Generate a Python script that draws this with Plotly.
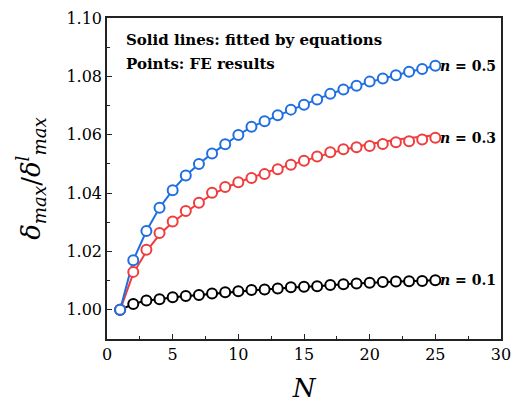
import plotly.graph_objects as go

N = list(range(1, 26))

fe_n05 = [1.000, 1.017, 1.027, 1.035, 1.041, 1.046, 1.050, 1.0536, 1.0567, 1.0599,
          1.0627, 1.0646, 1.0667, 1.0686, 1.0703, 1.0721, 1.0740, 1.0755, 1.0768, 1.0782,
          1.0793, 1.0804, 1.0816, 1.0825, 1.0836]
fe_n03 = [1.000, 1.013, 1.0206, 1.0263, 1.0303, 1.0339, 1.0367, 1.0401, 1.0421, 1.0437,
          1.0452, 1.0465, 1.0482, 1.0497, 1.0511, 1.0525, 1.0540, 1.0550, 1.0557, 1.0561,
          1.0568, 1.0574, 1.0578, 1.0584, 1.0590]
fe_n01 = [1.000, 1.0020, 1.0032, 1.0036, 1.0043, 1.0047, 1.0051, 1.0056, 1.0060, 1.0064,
          1.0068, 1.0070, 1.0073, 1.0077, 1.0079, 1.0081, 1.0085, 1.0088, 1.0090, 1.0093,
          1.0095, 1.0097, 1.0098, 1.0099, 1.0101]

fit_n05 = fe_n05
fit_n03 = [1.000, 1.0125, 1.0200, 1.0258, 1.0300, 1.0335, 1.0367, 1.0395, 1.0418, 1.0437,
           1.0454, 1.0469, 1.0484, 1.0498, 1.0511, 1.0524, 1.0537, 1.0549, 1.0559, 1.0568,
           1.0576, 1.0583, 1.0589, 1.0594, 1.0598]
fit_n01 = fe_n01

labels = ["<b><i>n</i> = 0.1</b>", "<b><i>n</i> = 0.3</b>", "<b><i>n</i> = 0.5</b>"]

BLACK = "#000000"
RED = "#f03c3c"
BLUE = "#1f6fe3"
SERIF = "DejaVu Serif"

fig = go.Figure()
series = [(fit_n01, fe_n01, BLACK), (fit_n03, fe_n03, RED), (fit_n05, fe_n05, BLUE)]
for fit, fe, col in series:
    fig.add_trace(go.Scatter(x=N, y=fit, mode="lines", line=dict(color=col, width=2),
                             showlegend=False, hoverinfo="skip"))
for fit, fe, col in series:
    fig.add_trace(go.Scatter(x=N, y=fe, mode="markers",
                             marker=dict(symbol="circle", size=10, color="white",
                                         line=dict(color=col, width=2)),
                             showlegend=False))

for lab, fe in zip(labels, [fe_n01, fe_n03, fe_n05]):
    fig.add_annotation(x=N[-1], y=fe[-1], text=lab, showarrow=False, xanchor="left",
                       xshift=3, yanchor="middle",
                       font=dict(family=SERIF, size=14, color="black"))

fig.add_annotation(x=0, y=1.0925, xref="x", yref="y", text="<b>Solid lines: fitted by equations</b>",
                   showarrow=False, xanchor="left", xshift=17, yanchor="middle",
                   font=dict(family=SERIF, size=15, color="black"))
fig.add_annotation(x=0, y=1.0843, xref="x", yref="y", text="<b>Points: FE results</b>",
                   showarrow=False, xanchor="left", xshift=17, yanchor="middle",
                   font=dict(family=SERIF, size=15, color="black"))

axis_common = dict(showline=True, linecolor="#222", linewidth=1.5, mirror=True,
                   ticks="inside", tickcolor="#222", tickwidth=1.2, ticklen=5,
                   showgrid=False, zeroline=False, ticklabeloverflow="allow",
                   tickfont=dict(family=SERIF, size=16, color="black"))

fig.update_xaxes(range=[0, 30], tickvals=[0, 5, 10, 15, 20, 25, 30],
                 minor=dict(ticks="inside", ticklen=3, tickcolor="#222", dtick=2.5, tick0=0),
                 title=dict(text="<i>N</i>", font=dict(family=SERIF, size=26, color="black"),
                            standoff=16),
                 **axis_common)
fig.update_yaxes(range=[0.99, 1.10], tickvals=[1.00, 1.02, 1.04, 1.06, 1.08, 1.10],
                 ticktext=["1.00", "1.02", "1.04", "1.06", "1.08", "1.10"],
                 minor=dict(ticks="inside", ticklen=3, tickcolor="#222", dtick=0.01, tick0=0.99),
                 title=dict(text="<i>δ<sub>max</sub></i>/<i>δ<sup>l</sup><sub>max</sub></i>",
                            font=dict(family=SERIF, size=26, color="black"),
                            standoff=18),
                 **axis_common)

fig.update_layout(width=520, height=407, margin=dict(l=107, r=9, t=14, b=68),
                  plot_bgcolor="white", paper_bgcolor="white",
                  font=dict(family=SERIF))

fig.write_html("out.html")
